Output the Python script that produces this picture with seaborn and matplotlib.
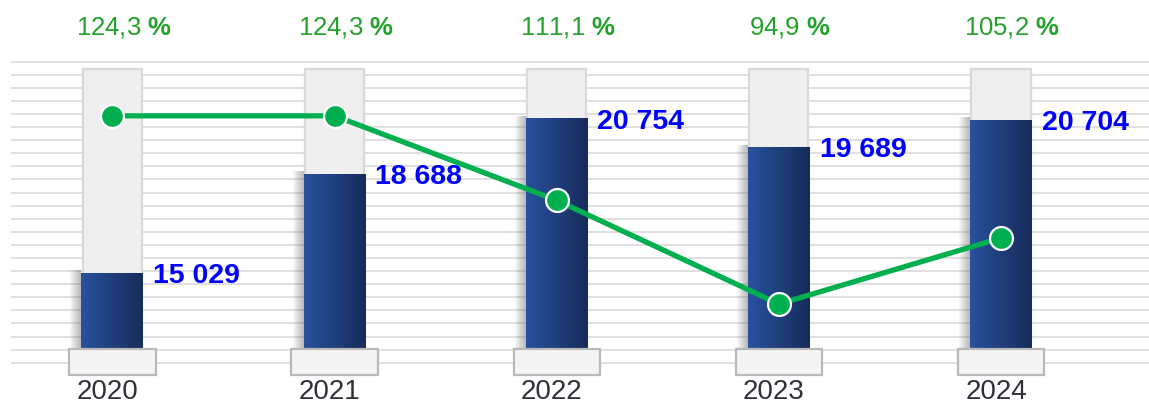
import numpy as np
import matplotlib
matplotlib.use("Agg")
import matplotlib.pyplot as plt
import matplotlib.transforms as mtrans
from matplotlib.patches import Rectangle
from matplotlib.colors import LinearSegmentedColormap
import seaborn as sns

# Data
years = ["2020", "2021", "2022", "2023", "2024"]
amounts = [15029, 18688, 20754, 19689, 20704]
growth_pct = [124.3, 124.3, 111.1, 94.9, 105.2]

sns.set_theme(style="white")
plt.rcParams["font.family"] = ["Liberation Sans", "DejaVu Sans"]
plt.rcParams["mathtext.fontset"] = "custom"
plt.rcParams["mathtext.rm"] = "Liberation Sans"
plt.rcParams["mathtext.bf"] = "Liberation Sans:bold"

W, H, DPI = 1149, 403, 100
fig = plt.figure(figsize=(W / DPI, H / DPI), dpi=DPI)

# ruled paper background
bg = fig.add_axes([0, 0, 1, 1])
bg.set_xlim(0, W)
bg.set_ylim(H, 0)
bg.axis("off")
bg.hlines(np.linspace(61.7, 362.7, 24), 11, W, color="#dadada", lw=1.2)

# main axes: bars sit on the bottom edge
base_px = 350
ax = fig.add_axes([0, (H - base_px) / H, 1, base_px / H])
ax.patch.set_visible(False)

XLIM = (-0.506, 4.666)
YLIM = (12173, 25165)
ux = (XLIM[1] - XLIM[0]) / W          # data units per pixel (x)
uy = (YLIM[1] - YLIM[0]) / base_px    # data units per pixel (y)

bar_w = 0.279
col_w = 0.266
ped_w = 0.388

sns.barplot(x=years, y=amounts, ax=ax, color="#213f7c", width=bar_w,
            saturation=1, edgecolor="none", zorder=2)

blend = mtrans.blended_transform_factory(ax.transData, ax.transAxes)
grad_cmap = LinearSegmentedColormap.from_list("barfill", ["#29519d", "#172c5a"])
grad = np.linspace(0, 1, 64).reshape(1, -1)

bars = list(ax.patches)
for i, p in enumerate(bars):
    x0, w, h = p.get_x(), p.get_width(), p.get_height()
    # empty track behind the bar
    ax.add_patch(Rectangle((i - col_w / 2, 0), col_w, 0.803, transform=blend,
                           fc="#efefef", ec="#d9d9d9", lw=1.6, zorder=1))
    # soft shadow on the left side
    for d in range(1, 12):
        ax.add_patch(Rectangle((x0 - d * ux, YLIM[0]), d * ux, h - YLIM[0] + 3 * uy,
                               fc="#505050", ec="none", alpha=0.04, zorder=1.5))
    # gradient fill
    ax.imshow(grad, extent=(x0, x0 + w, YLIM[0], h), aspect="auto",
              cmap=grad_cmap, zorder=2.1, interpolation="bicubic")
    # pedestal
    ax.add_patch(Rectangle((i - ped_w / 2, -0.0714), ped_w, 0.0743, transform=blend,
                           fc="#f4f4f4", ec="#b9b9b9", lw=1.6, clip_on=False, zorder=3))
    # value label
    ax.annotate(f"{amounts[i]:,}".replace(",", " "), xy=(x0 + w, h),
                xytext=(7, -2), textcoords="offset points", ha="left", va="center",
                fontsize=20.5, fontweight="bold", color="#0000ff", zorder=5)
    # growth label
    pct_txt = f"{growth_pct[i]:.1f}".replace(".", ",") + r" $\mathbf{\%}$"
    ax.text(i + 0.05, 0.92, pct_txt, transform=blend, ha="center", va="center",
            fontsize=18.5, color="#22a22a")

ax.set_xlim(*XLIM)
ax.set_ylim(*YLIM)
ax.set_xlabel("")
ax.set_ylabel("")
ax.set_yticks([])
ax.tick_params(axis="x", length=0, pad=21, labelsize=20, labelcolor="#30303a")
shift = mtrans.ScaledTranslation(-5 / DPI, 0, fig.dpi_scale_trans)
for lbl in ax.get_xticklabels():
    lbl.set_transform(lbl.get_transform() + shift)
for s in ax.spines.values():
    s.set_visible(False)

# growth line on a secondary scale
ax2 = ax.twinx()
sns.pointplot(x=years, y=growth_pct, ax=ax2, color="#00b050", markers="o",
              errorbar=None)
for ln in ax2.lines:
    ln.set_linewidth(3.8)
    ln.set_markersize(16.5)
    ln.set_markeredgecolor("white")
    ln.set_markeredgewidth(1.6)
    ln.set_markerfacecolor("#00b050")
    ln.set_color("#00b050")
ax2.set_ylim(87.71, 142.4)
ax.set_xlim(*XLIM)
ax2.set_ylabel("")
ax2.set_yticks([])
for s in ax2.spines.values():
    s.set_visible(False)

fig.savefig("out.png", dpi=DPI)
